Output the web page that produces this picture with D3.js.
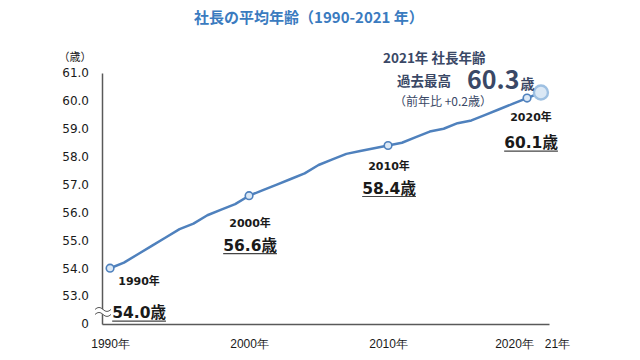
<!DOCTYPE html>
<html><head><meta charset="utf-8">
<script src="https://cdn.jsdelivr.net/npm/d3@7"></script>
<style>
body{margin:0;background:#fff;}
svg{display:block;font-family:"DejaVu Sans","Noto Sans CJK JP",sans-serif;}
</style></head><body>
<svg id="c" width="640" height="360"></svg>
<script>
const years = [1990,1991,1992,1993,1994,1995,1996,1997,1998,1999,2000,2001,2002,2003,2004,2005,2006,2007,2008,2009,2010,2011,2012,2013,2014,2015,2016,2017,2018,2019,2020,2021];
const ages  = [54.0,54.2,54.5,54.8,55.1,55.4,55.6,55.9,56.1,56.3,56.6,56.8,57.0,57.2,57.4,57.7,57.9,58.1,58.2,58.3,58.4,58.5,58.7,58.9,59.0,59.2,59.3,59.5,59.7,59.9,60.1,60.3];
const yTicks = [52,53,54,55,56,57,58,59,60,61];
const xTickYears = [1990,2000,2010,2020,2021];
const xTickLabels = ["1990年","2000年","2010年","2020年","21年"];
const markedYears = [1990,2000,2010,2020];
const title = "社長の平均年齢（1990-2021 年）";
const latestLines = ["2021年 社長年齢","過去最高","60.3","歳","（前年比 +0.2歳）"];

const svg = d3.select("#c");
const x = d3.scaleLinear().domain([1989.42, 2021.58]).range([102, 549]);
const y = d3.scaleLinear().domain([52, 61]).range([324, 73]);
const axisCol = "#595959", lineCol = "#4f81bd", txt = "#1a1a1a", navy = "#3a4866";
const cjk = "Noto Sans CJK JP, sans-serif";

svg.append("text").attr("x", 309).attr("y", 23).attr("text-anchor","middle").attr("font-family", cjk)
  .attr("font-size", 15).attr("font-weight","bold").attr("fill","#3a7bbf").text(title);

// y axis
const ya = svg.append("g").attr("transform","translate(102,0)")
  .call(d3.axisLeft(y).tickValues(yTicks).tickSize(0).tickPadding(13)
    .tickFormat(d => d === 52 ? "0" : d3.format(".1f")(d)));
ya.select(".domain").attr("stroke", axisCol).attr("stroke-width",1.5);
ya.selectAll("text").attr("font-size",12).attr("fill",txt).attr("font-family","DejaVu Sans, sans-serif");
svg.append("text").attr("x",75).attr("y",61).attr("text-anchor","middle").attr("font-size",11).attr("fill",txt).text("（歳）");

// x axis
const xa = svg.append("g").attr("transform","translate(0,324)")
  .call(d3.axisBottom(x).tickValues(xTickYears).tickSize(0).tickPadding(15)
    .tickFormat((d,i) => xTickLabels[i]));
xa.select(".domain").attr("stroke", axisCol).attr("stroke-width",1.5);
xa.selectAll("text").attr("font-size",12).attr("fill",txt)
  .attr("dx", d => d === 2020 ? -13 : d === 2021 ? 16 : 0);

// axis break squiggle
const by = y(52.45);
const wave = (dy) => `M95,${by+dy} q4,-4 8,0 t8,0`;
svg.append("path").attr("d", `M95,${by-2} q4,-4 8,0 t8,0 L111,${by+3} q-4,4 -8,0 t-8,0 Z`).attr("fill","#fff");
[-2,3].forEach(dy => svg.append("path").attr("d", wave(dy)).attr("fill","none").attr("stroke",axisCol).attr("stroke-width",1));

// line
const pts = years.map((yr,i) => ({yr, v: ages[i]}));
svg.append("path").datum(pts)
  .attr("d", d3.line().x(d => x(d.yr)).y(d => y(d.v)))
  .attr("fill","none").attr("stroke",lineCol).attr("stroke-width",2.5).attr("stroke-linejoin","round");

svg.selectAll("circle.m").data(pts.filter(d => markedYears.includes(d.yr))).join("circle")
  .attr("class","m").attr("cx", d => x(d.yr)).attr("cy", d => y(d.v)).attr("r",3.8)
  .attr("fill","#dce9f6").attr("stroke",lineCol).attr("stroke-width",1.6);
const last = pts[pts.length-1];
svg.append("circle").attr("cx", x(last.yr)).attr("cy", y(last.v)).attr("r",7)
  .attr("fill","#dbe8f5").attr("stroke","#9ec0e2").attr("stroke-width",2.4);

// annotations
const ann = [
  {yr:1990, dx:29, yd:17, vd:50},
  {yr:2000, dx:1, yd:31, vd:55},
  {yr:2010, dx:1, yd:24, vd:48},
  {yr:2020, dx:0, yd:23, vd:50}
];
ann.forEach(a => {
  const p = pts.find(d => d.yr === a.yr);
  const cx = x(p.yr) + a.dx + (a.yr===2020 ? 4 : 0), cy = y(p.v);
  svg.append("text").attr("x", cx).attr("y", cy + a.yd).attr("text-anchor","middle")
    .attr("font-size",11).attr("font-weight","bold").attr("fill",txt).text(a.yr + "年");
  const t = svg.append("text").attr("x", cx).attr("y", cy + a.vd).attr("text-anchor","middle")
    .attr("font-size",15.5).attr("font-weight","bold").attr("fill",txt).text(d3.format(".1f")(p.v) + "歳");
  const w = t.node().getComputedTextLength();
  svg.append("line").attr("x1", cx - w/2).attr("x2", cx + w/2)
    .attr("y1", cy + a.vd + 3).attr("y2", cy + a.vd + 3).attr("stroke","#444").attr("stroke-width",1.2);
});

// latest highlight block
svg.append("text").attr("x",383).attr("y",63).attr("font-family",cjk).attr("font-size",13.5).attr("font-weight","bold").attr("fill",navy).text(latestLines[0]);
svg.append("text").attr("x",397).attr("y",86).attr("font-family",cjk).attr("font-size",13.5).attr("font-weight","bold").attr("fill",navy).text(latestLines[1]);
const big = svg.append("text").attr("x",467).attr("y",89).attr("font-family",cjk).attr("font-size",25).attr("font-weight","bold").attr("fill",navy);
big.append("tspan").text(latestLines[2]);
big.append("tspan").attr("font-size",14).attr("dx",1).text(latestLines[3]);
svg.append("text").attr("x",394).attr("y",106).attr("font-family",cjk).attr("font-size",12).attr("fill",navy).text(latestLines[4]);
</script></body></html>
